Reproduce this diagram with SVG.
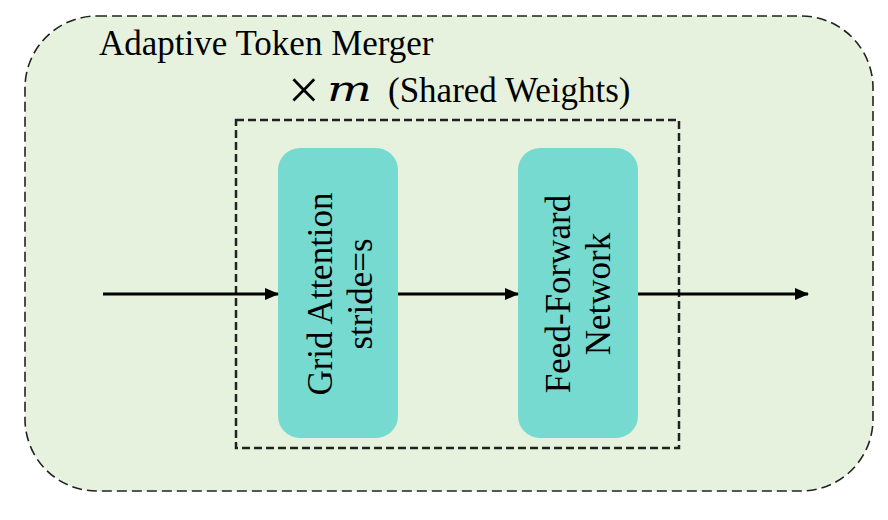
<svg xmlns="http://www.w3.org/2000/svg" width="888" height="520" viewBox="0 0 888 520">
<defs>
<style>
.t{font-family:"Liberation Serif","Times New Roman",serif;fill:#000}
.node{fill:#76dad0}
.conn{stroke:#000;stroke-width:3;fill:none}
</style>
<marker id="ah" markerWidth="14" markerHeight="12" refX="13" refY="6" orient="auto" markerUnits="userSpaceOnUse">
<path d="M0,0 L14,6 L0,12 Z" fill="#000"/>
</marker>
</defs>
<rect width="888" height="520" fill="#fff"/>
<g id="outer">
<rect x="25" y="16" width="848" height="475" rx="72" ry="72" fill="#e6f2de" stroke="#222" stroke-width="1.6" stroke-dasharray="10,5"/>
<text class="t" x="99" y="55" font-size="35">Adaptive Token Merger</text>
</g>
<g id="shared">
<rect x="236" y="120" width="443" height="328" fill="none" stroke="#222" stroke-width="2.5" stroke-dasharray="8,4"/>
<text class="t" x="288" y="109" font-size="56">×</text>
<text x="327" y="101" font-family="'DejaVu Serif',serif" font-size="36" font-style="italic" font-weight="300" textLength="45" lengthAdjust="spacingAndGlyphs">m</text>
<text class="t" x="388" y="102" font-size="35">(Shared Weights)</text>
</g>
<g id="grid-attention">
<rect class="node" x="278" y="148" width="120" height="290" rx="22" ry="22"/>
<text class="t" font-size="35" text-anchor="middle" transform="translate(332,294) rotate(-90)">Grid Attention</text>
<text class="t" font-size="35" text-anchor="middle" transform="translate(372,294) rotate(-90)">stride=s</text>
</g>
<g id="ffn">
<rect class="node" x="518" y="148" width="120" height="290" rx="22" ry="22"/>
<text class="t" font-size="35" text-anchor="middle" transform="translate(570,294) rotate(-90)">Feed-Forward</text>
<text class="t" font-size="35" text-anchor="middle" transform="translate(610,294) rotate(-90)">Network</text>
</g>
<g id="connectors">
<line class="conn" x1="103" y1="294" x2="278" y2="294" marker-end="url(#ah)"/>
<line class="conn" x1="398" y1="294" x2="518" y2="294" marker-end="url(#ah)"/>
<line class="conn" x1="638" y1="294" x2="808" y2="294" marker-end="url(#ah)"/>
</g>
</svg>
